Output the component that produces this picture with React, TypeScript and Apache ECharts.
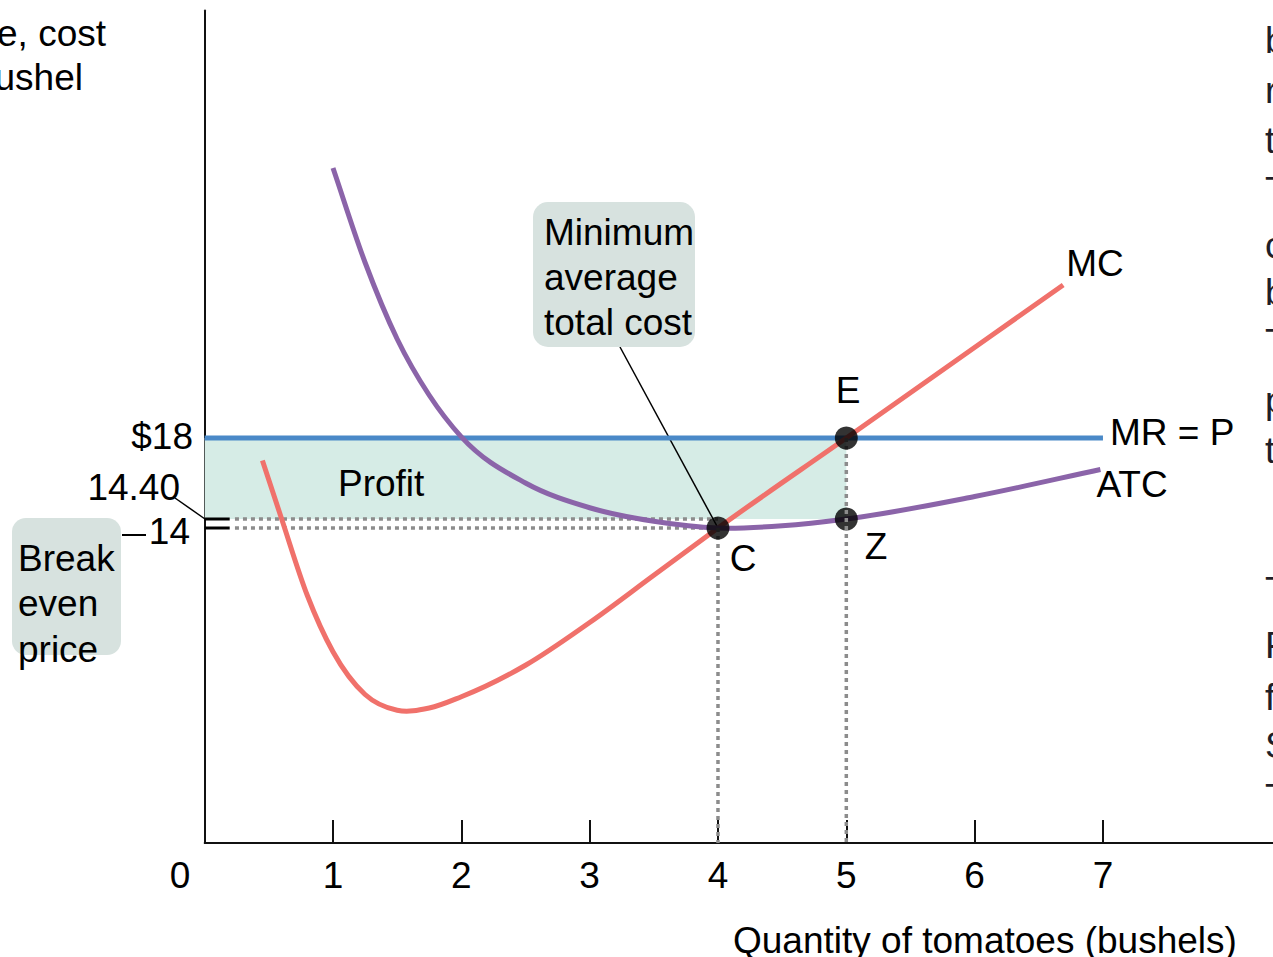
import React, { useEffect, useRef } from 'react';
import * as echarts from 'echarts';

// ---- data ----
const X_TICKS = [1, 2, 3, 4, 5, 6, 7];
const PRICE = 18;
const MIN_ATC = 14;
const ATC_AT_Q = 14.4;
const Q_MIN_ATC = 4;
const Q_PROFIT_MAX = 5;
const MR_DATA = [[0, 18], [7, 18]];
const MC_DATA = [
  [0.45, 17.0], [0.6, 14.4], [0.8, 11.0], [1.0, 8.5], [1.25, 6.6], [1.5, 5.9], [1.75, 6.0],
  [2.0, 6.5], [2.5, 7.9], [3.0, 9.8], [3.5, 11.9], [4.0, 14.0], [5.0, 18.0], [6.69, 24.8],
];
const ATC_DATA = [
  [1.0, 30.0], [1.25, 25.8], [1.5, 22.4], [1.75, 19.9], [2.0, 18.05], [2.5, 16.0],
  [3.0, 14.9], [3.5, 14.3], [4.0, 14.0], [4.5, 14.1], [5.0, 14.4], [6.0, 15.4], [6.98, 16.6],
];
const POINTS = [
  { name: 'C', value: [Q_MIN_ATC, MIN_ATC] },
  { name: 'E', value: [Q_PROFIT_MAX, PRICE] },
  { name: 'Z', value: [Q_PROFIT_MAX, ATC_AT_Q] },
];
const DOT_H14 = [[0.236, MIN_ATC], [Q_MIN_ATC, MIN_ATC]];
const DOT_H144 = [[0.236, ATC_AT_Q], [Q_MIN_ATC, ATC_AT_Q]];
const DOT_V4 = [[Q_MIN_ATC, MIN_ATC], [Q_MIN_ATC, 0]];
const DOT_V5_TOP = [[Q_PROFIT_MAX, PRICE], [Q_PROFIT_MAX, ATC_AT_Q]];
const DOT_V5 = [[Q_PROFIT_MAX, ATC_AT_Q + 0.4], [Q_PROFIT_MAX, 0]];
const TICK_14 = [[0, MIN_ATC], [0.195, MIN_ATC]];
const TICK_144 = [[0, ATC_AT_Q], [0.195, ATC_AT_Q]];
const RIGHT_TEXT: [string, number][] = [
  ['b', 40], ['r', 90], ['t', 140], ['T', 190], ['c', 245], ['b', 292], ['T', 342],
  ['p', 400], ['t', 450], ['T', 590], ['F', 645], ['f', 697], ['S', 745], ['T', 797],
];

const FONT = '"Liberation Sans", Arial, Helvetica, sans-serif';
const FS = 37;

// smooth curve (cubic Hermite in x) through the data points, placed via the axes
const smoothCurve = (name: string, data: number[][], color: string) => ({
  type: 'custom', name, data, z: 4, silent: true,
  encode: { x: 0, y: 1 },
  renderItem: (params: any, api: any) => {
    if (params.dataIndex !== 0) return null;
    const p = data.map((d) => api.coord(d) as number[]);
    const n = p.length;
    const t = data.map((d) => d[0]);
    const h = t.slice(0, -1).map((v, i) => t[i + 1] - v);
    const sec = h.map((hi, i) => [(p[i + 1][0] - p[i][0]) / hi, (p[i + 1][1] - p[i][1]) / hi]);
    const m = p.map((_, i) => {
      if (i === 0) return sec[0];
      if (i === n - 1) return sec[n - 2];
      const a = h[i - 1], b = h[i];
      return [(b * sec[i - 1][0] + a * sec[i][0]) / (a + b), (b * sec[i - 1][1] + a * sec[i][1]) / (a + b)];
    });
    let d = `M${p[0][0]},${p[0][1]}`;
    for (let i = 0; i < n - 1; i++) {
      const k = h[i] / 3;
      d += ` C${p[i][0] + m[i][0] * k},${p[i][1] + m[i][1] * k} ${p[i + 1][0] - m[i + 1][0] * k},${p[i + 1][1] - m[i + 1][1] * k} ${p[i + 1][0]},${p[i + 1][1]}`;
    }
    return {
      type: 'path',
      shape: { pathData: d },
      style: { fill: 'none', stroke: color, lineWidth: 5 },
    };
  },
});

export default function App() {
  const ref = useRef<HTMLDivElement>(null);
  useEffect(() => {
    const chart = echarts.init(ref.current!, null, { renderer: 'svg' });
    const txt = (text: string, x: number, y: number, extra: any = {}) => ({
      type: 'text', x, y, z: 10,
      style: { text, fill: '#000', fontSize: FS, fontFamily: FONT, textAlign: 'left', textVerticalAlign: 'middle', ...extra },
    });
    const dotted = (data: number[][], z = 1) => ({
      type: 'line', data, symbol: 'none', silent: true, z,
      lineStyle: { color: '#8c8c8c', width: 3.5, type: [4, 4] },
    });
    const solid = (data: number[][]) => ({
      type: 'line', data, symbol: 'none', silent: true, z: 3,
      lineStyle: { color: '#000', width: 3 },
    });
    chart.setOption({
      animation: false,
      grid: { left: 204.67, right: 0, top: 10.5, bottom: 114, containLabel: false, outerBoundsMode: 'none' },
      xAxis: {
        type: 'value', min: 0, max: 8.325, interval: 1,
        splitLine: { show: false },
        axisLine: { lineStyle: { color: '#111', width: 2 } },
        axisTick: { inside: true, length: 23, customValues: X_TICKS, lineStyle: { color: '#111', width: 2 } },
        axisLabel: {
          customValues: X_TICKS, margin: 14, color: '#000', fontSize: FS, fontFamily: FONT,
          formatter: (v: number) => (X_TICKS.includes(v) ? String(v) : ''),
        },
      },
      yAxis: {
        type: 'value', min: 0, max: 37,
        splitLine: { show: false },
        axisLine: { lineStyle: { color: '#111', width: 2 } },
        axisTick: { show: false },
        axisLabel: { show: false },
      },
      series: [
        {
          type: 'line', name: 'MR = P', data: MR_DATA, symbol: 'none', z: 3,
          lineStyle: { color: '#4a89c8', width: 5 },
          markArea: {
            silent: true, itemStyle: { color: '#d6ece6' },
            data: [[{ coord: [0, ATC_AT_Q] }, { coord: [Q_PROFIT_MAX, PRICE] }]],
          },
        },
        dotted(DOT_H14), dotted(DOT_H144), dotted(DOT_V4, 4), dotted(DOT_V5_TOP, 4), dotted(DOT_V5, 6),
        solid(TICK_14), solid(TICK_144),
        smoothCurve('MC', MC_DATA, '#f0716b'),
        smoothCurve('ATC', ATC_DATA, '#8b64a9'),
        { type: 'scatter', data: POINTS, symbolSize: 23, z: 5, itemStyle: { color: '#000' } },
      ],
    });
    const C = chart.convertToPixel({ gridIndex: 0 }, [Q_MIN_ATC, MIN_ATC]) as number[];
    const graphic: any[] = [
      // axis captions
      txt('Price, cost', 106, 33, { textAlign: 'right' }),
      txt('per bushel', 83, 77, { textAlign: 'right' }),
      txt('0', 180, 875, { textAlign: 'center' }),
      txt('Quantity of tomatoes (bushels)', 733, 940),
      // price labels
      txt('$18', 193, 436, { textAlign: 'right' }),
      txt('14.40', 180, 487, { textAlign: 'right' }),
      txt('14', 190, 531, { textAlign: 'right' }),
      { type: 'line', z: 10, shape: { x1: 175, y1: 498, x2: 205, y2: 519 }, style: { stroke: '#000', lineWidth: 1.5 } },
      { type: 'line', z: 10, shape: { x1: 122, y1: 535, x2: 146, y2: 535 }, style: { stroke: '#000', lineWidth: 2 } },
      // break even box
      { type: 'rect', z: 8, shape: { x: 12, y: 518, width: 109, height: 137, r: 14 }, style: { fill: '#d7e2df' } },
      txt('Break\neven\nprice', 18, 535.5, { textVerticalAlign: 'top', lineHeight: 45.5 }),
      // min ATC box
      { type: 'rect', z: 8, shape: { x: 533, y: 202, width: 162, height: 145, r: 15 }, style: { fill: '#d7e2df' } },
      txt('Minimum\naverage\ntotal cost', 544, 209.5, { textVerticalAlign: 'top', lineHeight: 45 }),
      { type: 'line', z: 3, shape: { x1: 620, y1: 347, x2: C[0], y2: C[1] }, style: { stroke: '#000', lineWidth: 1.5 } },
      // curve / point labels
      txt('Profit', 338, 483),
      txt('E', 848, 390, { textAlign: 'center' }),
      txt('C', 743, 558, { textAlign: 'center' }),
      txt('Z', 876, 546, { textAlign: 'center' }),
      txt('MC', 1095, 263, { textAlign: 'center' }),
      txt('ATC', 1132, 484, { textAlign: 'center' }),
      txt('MR = P', 1110, 432),
      ...RIGHT_TEXT.map(([t, y]) => txt(t, 1265, y, { fill: '#1e1e28' })),
    ];
    chart.setOption({ graphic });
    return () => chart.dispose();
  }, []);
  return <div ref={ref} style={{ position: 'fixed', left: 0, top: 0, width: 1273, height: 957, background: '#fff' }} />;
}
